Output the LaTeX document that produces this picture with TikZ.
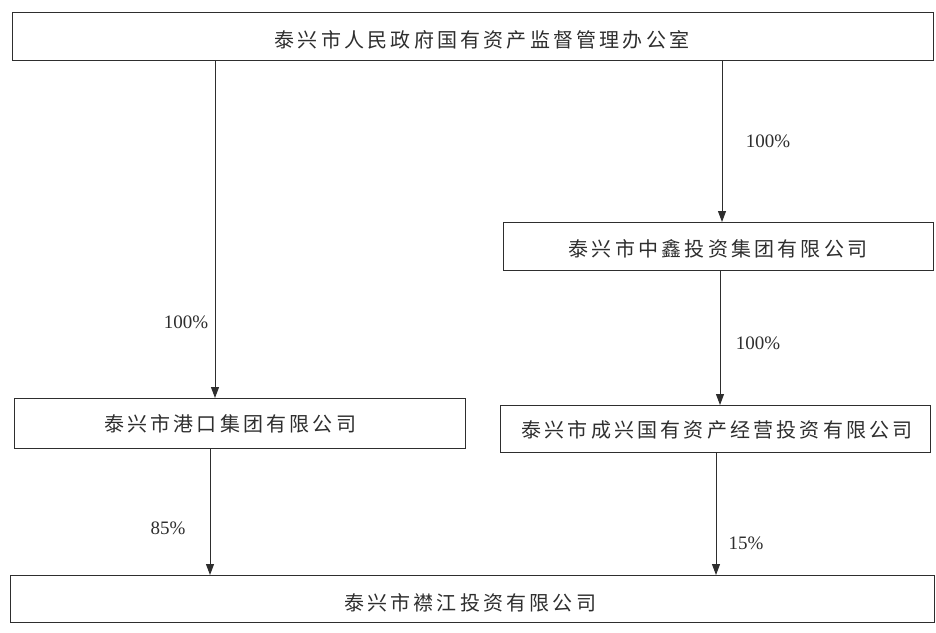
\documentclass[tikz,border=0pt]{standalone}
\usepackage{fontspec}
\setmainfont{Liberation Serif}
\newfontfamily\cjk[LetterSpace=16]{Noto Sans CJK SC}
\usetikzlibrary{arrows.meta}
\definecolor{ink}{HTML}{2E2E2E}
\tikzset{
  orgbox/.style={draw=ink, line width=1.1pt, rectangle, inner sep=0pt, anchor=north west},
  cjktxt/.style={font=\cjk\fontsize{20}{23}\selectfont, text=ink},
  arr/.style={draw=ink, line width=1pt, -{Triangle[width=8pt,length=11pt]}},
  pct/.style={font=\fontsize{19}{22}\selectfont, text=ink}
}
\begin{document}
\begin{tikzpicture}[x=1pt,y=-1pt]
\useasboundingbox (0,0) rectangle (936,632);
\node[orgbox, minimum width=921pt, minimum height=48pt] (top) at (12,12) {};
\node[cjktxt] (toptxt) at (482,40) {泰兴市人民政府国有资产监督管理办公室};
\node[orgbox, minimum width=430pt, minimum height=48pt] (zx) at (503,222) {};
\node[cjktxt] (zxtxt) at (718,249) {泰兴市中鑫投资集团有限公司};
\node[orgbox, minimum width=430pt, minimum height=47pt] (cx) at (500,405) {};
\node[cjktxt] (cxtxt) at (717,430) {泰兴市成兴国有资产经营投资有限公司};
\node[orgbox, minimum width=451pt, minimum height=50pt] (gk) at (14,398) {};
\node[cjktxt] (gktxt) at (230,424) {泰兴市港口集团有限公司};
\node[orgbox, minimum width=924pt, minimum height=47pt] (bj) at (10,575) {};
\node[cjktxt] (bjtxt) at (470,603) {泰兴市襟江投资有限公司};
\draw[arr] (top.south -| 215,0) -- (gk.north -| 215,0);
\draw[arr] (top.south -| 722,0) -- (zx.north -| 722,0);
\draw[arr] (zx.south -| 720,0) -- (cx.north -| 720,0);
\draw[arr] (gk.south -| 210,0) -- (bj.north -| 210,0);
\draw[arr] (cx.south -| 716,0) -- (bj.north -| 716,0);
\node[pct] (p1) at (186,322) {100\%};
\node[pct] (p2) at (768,141) {100\%};
\node[pct] (p3) at (758,343) {100\%};
\node[pct] (p4) at (168,528) {85\%};
\node[pct] (p5) at (746,543) {15\%};
\end{tikzpicture}
\end{document}
